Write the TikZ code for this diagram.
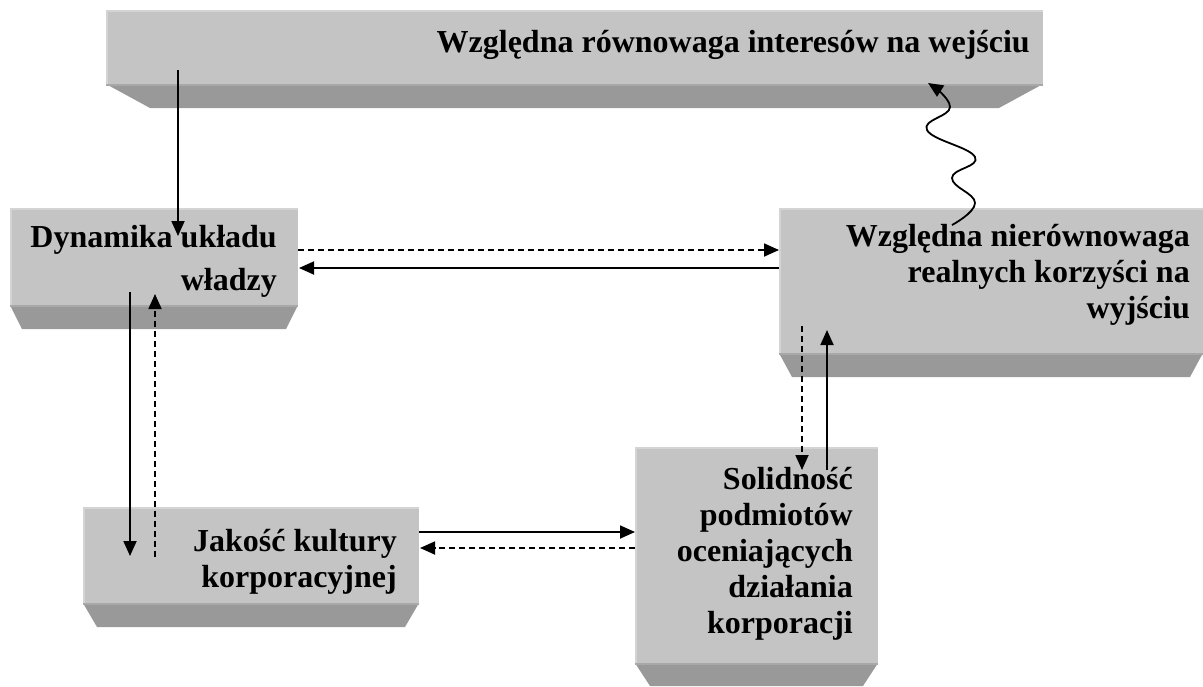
\documentclass[tikz,border=0pt]{standalone}
\usepackage{fontspec}
\setmainfont{Liberation Serif}
\usetikzlibrary{arrows.meta,calc}

\definecolor{slabface}{HTML}{C4C4C4}
\definecolor{slablight}{HTML}{D4D4D4}
\definecolor{slabdark}{HTML}{999999}
\definecolor{slabedge}{HTML}{A8A8A8}

\tikzset{
  face/.style={fill=slabface},
  bevel/.style={fill=slabdark},
  label/.style={font=\bfseries\fontsize{32}{36}\selectfont, align=right,
    anchor=base east, inner sep=0pt},
  link/.style={line width=1.8pt, -{Triangle[length=15pt,width=13pt]}},
  dlink/.style={link, dash pattern=on 6pt off 4pt},
}

% #1 name, (#2,#3) top-left, #4 right x, #5 face bottom, #6 bevel bottom, #7 bevel inset
\newcommand\slabbox[7]{%
  \path[face] (#2,#3) rectangle (#4,#5);
  \fill[slablight] (#2,#3) rectangle (#4,#3+2);
  \fill[slablight] (#2,#3) rectangle (#2+2,#5);
  \path[bevel] (#2,#5) -- (#4,#5) -- (#4-#7,#6) -- (#2+#7,#6) -- cycle;
  \fill[slabedge] (#2,#5) rectangle (#4,#5+2);
  \coordinate (#1-nw) at (#2,#3);
  \coordinate (#1-se) at (#4,#6);
}

\begin{document}
\begin{tikzpicture}[x=1pt,y=-1pt]
  \useasboundingbox (0,0) rectangle (1203,686);

  % blocks
  \slabbox{top}{106}{10}{1043}{84}{108}{44}
  \slabbox{dyn}{10}{208}{298}{305}{329}{12}
  \slabbox{out}{779}{208}{1203}{353}{377}{13}
  \slabbox{cult}{83}{507}{419}{603}{627}{14}
  \slabbox{sol}{635}{447}{878}{663}{686}{15}

  % captions (anchored at the baseline of the last line)
  \node[label] (topT) at (1030,52) {Względna równowaga interesów na wejściu};
  \node[label] (dynT) at (277,290) {Dynamika układu\\[7pt]władzy};
  \node[label] (outT) at (1190,318) {Względna nierównowaga\\realnych korzyści na\\wyjściu};
  \node[label] (cultT) at (397,587) {Jakość kultury\\korporacyjnej};
  \node[label] (solT) at (853,633) {Solidność\\podmiotów\\oceniających\\działania\\korporacji};

  % connector ends
  \coordinate (p1a) at (178,70);   \coordinate (p1b) at (178,236);
  \coordinate (p2a) at (298,250);  \coordinate (p2b) at (779,250);
  \coordinate (p3a) at (779,268);  \coordinate (p3b) at (299,268);
  \coordinate (p4a) at (130,292);  \coordinate (p4b) at (130,556);
  \coordinate (p5a) at (155,557);  \coordinate (p5b) at (155,294);
  \coordinate (p6a) at (419,532);  \coordinate (p6b) at (635,532);
  \coordinate (p7a) at (635,548);  \coordinate (p7b) at (420,548);
  \coordinate (p8a) at (802,326);  \coordinate (p8b) at (802,470);
  \coordinate (p9a) at (827,470);  \coordinate (p9b) at (827,330);

  \draw[link]  (p1a) -- (p1b);
  \draw[dlink] (p2a) -- (p2b);
  \draw[link]  (p3a) -- (p3b);
  \draw[link]  (p4a) -- (p4b);
  \draw[dlink] (p5a) -- (p5b);
  \draw[link]  (p6a) -- (p6b);
  \draw[dlink] (p7a) -- (p7b);
  \draw[dlink] (p8a) -- (p8b);
  \draw[link]  (p9a) -- (p9b);

  % wavy feedback to the input
  \coordinate (w0) at (952,225);
  \coordinate (w6) at (928,83);
  \draw[link]
    plot[smooth, tension=0.75] coordinates
    {(w0) (975,203) (952,178) (975,157) (927,130) (950,107) (w6)};
\end{tikzpicture}
\end{document}
